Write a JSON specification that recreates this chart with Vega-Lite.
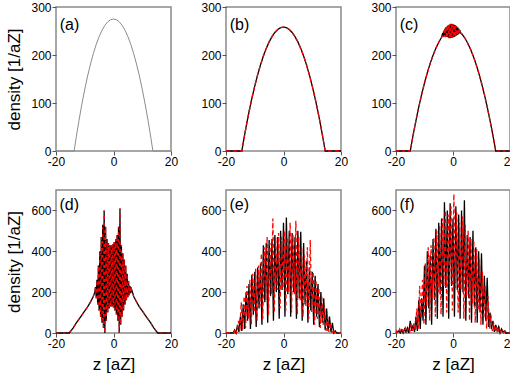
{
"$schema": "https://vega.github.io/schema/vega-lite/v6.json",
"autosize": "pad",
"padding": {"left": 5, "top": 0, "right": 0, "bottom": 0},
"background": "white",
"datasets": {
"a": [{"z":-20,"n":0},{"z":-13.7,"n":0},{"z":-13,"n":27.4},{"z":-12,"n":64},{"z":-11,"n":97.7},{"z":-10,"n":128.5},{"z":-9,"n":156.3},{"z":-8,"n":181.2},{"z":-7,"n":203.2},{"z":-6,"n":222.3},{"z":-5,"n":238.4},{"z":-4,"n":251.6},{"z":-3,"n":261.8},{"z":-2,"n":269.1},{"z":-1,"n":273.5},{"z":0,"n":275},{"z":1,"n":273.5},{"z":2,"n":269.1},{"z":3,"n":261.8},{"z":4,"n":251.6},{"z":5,"n":238.4},{"z":6,"n":222.3},{"z":7,"n":203.2},{"z":8,"n":181.2},{"z":9,"n":156.3},{"z":10,"n":128.5},{"z":11,"n":97.7},{"z":12,"n":64},{"z":13,"n":27.4},{"z":13.7,"n":0},{"z":20,"n":0}],
"b": [{"z":-20,"n":0},{"z":-14.5,"n":0},{"z":-14,"n":17.5},{"z":-13,"n":50.6},{"z":-12,"n":81.3},{"z":-11,"n":109.5},{"z":-10,"n":135.3},{"z":-9,"n":158.6},{"z":-8,"n":179.5},{"z":-7,"n":197.9},{"z":-6,"n":213.8},{"z":-5,"n":227.3},{"z":-4,"n":238.4},{"z":-3,"n":247.0},{"z":-2,"n":253.1},{"z":-1,"n":256.8},{"z":0,"n":258},{"z":1,"n":256.8},{"z":2,"n":253.1},{"z":3,"n":247.0},{"z":4,"n":238.4},{"z":5,"n":227.3},{"z":6,"n":213.8},{"z":7,"n":197.9},{"z":8,"n":179.5},{"z":9,"n":158.6},{"z":10,"n":135.3},{"z":11,"n":109.5},{"z":12,"n":81.3},{"z":13,"n":50.6},{"z":14,"n":17.5},{"z":14.5,"n":0},{"z":20,"n":0}],
"c_k": [{"z":-20,"n":0},{"z":-15,"n":0},{"z":-14,"n":33.0},{"z":-13,"n":63.5},{"z":-12,"n":91.8},{"z":-11,"n":117.9},{"z":-10,"n":141.7},{"z":-9,"n":163.2},{"z":-8,"n":182.5},{"z":-7,"n":199.5},{"z":-6,"n":214.2},{"z":-5,"n":226.7},{"z":-4,"n":236.9},{"z":-3.6,"n":246},{"z":-3.4,"n":238},{"z":-3.2,"n":251},{"z":-3.0,"n":240},{"z":-2.8,"n":255},{"z":-2.6,"n":239},{"z":-2.4,"n":258},{"z":-2.2,"n":238},{"z":-2.0,"n":260},{"z":-1.8,"n":237},{"z":-1.6,"n":262},{"z":-1.4,"n":236},{"z":-1.2,"n":263},{"z":-1.0,"n":235},{"z":-0.8,"n":264},{"z":-0.6,"n":236},{"z":-0.4,"n":265},{"z":-0.2,"n":236},{"z":0,"n":264},{"z":0.2,"n":237},{"z":0.4,"n":263},{"z":0.6,"n":238},{"z":0.8,"n":262},{"z":1.0,"n":240},{"z":1.2,"n":260},{"z":1.4,"n":241},{"z":1.6,"n":258},{"z":1.8,"n":243},{"z":2.0,"n":255},{"z":2.2,"n":245},{"z":2.4,"n":252},{"z":2.6,"n":246},{"z":3,"n":244.8},{"z":4,"n":236.9},{"z":5,"n":226.7},{"z":6,"n":214.2},{"z":7,"n":199.5},{"z":8,"n":182.5},{"z":9,"n":163.2},{"z":10,"n":141.7},{"z":11,"n":117.9},{"z":12,"n":91.8},{"z":13,"n":63.5},{"z":14,"n":33.0},{"z":15,"n":0},{"z":20,"n":0}],
"c_r": [{"z":-20,"n":0},{"z":-15,"n":0},{"z":-14,"n":33.0},{"z":-13,"n":63.5},{"z":-12,"n":91.8},{"z":-11,"n":117.9},{"z":-10,"n":141.7},{"z":-9,"n":163.2},{"z":-8,"n":182.5},{"z":-7,"n":199.5},{"z":-6,"n":214.2},{"z":-5,"n":226.7},{"z":-4,"n":236.9},{"z":-3.5,"n":240},{"z":-3.3,"n":250},{"z":-3.1,"n":238},{"z":-2.9,"n":256},{"z":-2.7,"n":237},{"z":-2.5,"n":259},{"z":-2.3,"n":236},{"z":-2.1,"n":261},{"z":-1.9,"n":236},{"z":-1.7,"n":263},{"z":-1.5,"n":235},{"z":-1.3,"n":264},{"z":-1.1,"n":235},{"z":-0.9,"n":265},{"z":-0.7,"n":236},{"z":-0.5,"n":265},{"z":-0.3,"n":236},{"z":-0.1,"n":264},{"z":0.1,"n":237},{"z":0.3,"n":263},{"z":0.5,"n":238},{"z":0.7,"n":262},{"z":0.9,"n":239},{"z":1.1,"n":261},{"z":1.3,"n":241},{"z":1.5,"n":259},{"z":1.7,"n":242},{"z":1.9,"n":256},{"z":2.1,"n":244},{"z":2.3,"n":253},{"z":2.5,"n":246},{"z":3,"n":244.8},{"z":4,"n":236.9},{"z":5,"n":226.7},{"z":6,"n":214.2},{"z":7,"n":199.5},{"z":8,"n":182.5},{"z":9,"n":163.2},{"z":10,"n":141.7},{"z":11,"n":117.9},{"z":12,"n":91.8},{"z":13,"n":63.5},{"z":14,"n":33.0},{"z":15,"n":0},{"z":20,"n":0}],
"d": [{"z":-20,"n":0},{"z":-15.4,"n":0},{"z":-14,"n":25},{"z":-13,"n":48},{"z":-12,"n":68},{"z":-11,"n":88},{"z":-10,"n":108},{"z":-9,"n":128},{"z":-8,"n":152},{"z":-7,"n":180},{"z":-6.5,"n":200},{"z":-6.25,"n":225},{"z":-6,"n":170},{"z":-5.75,"n":260},{"z":-5.5,"n":140},{"z":-5.25,"n":330},{"z":-5,"n":110},{"z":-4.75,"n":400},{"z":-4.5,"n":80},{"z":-4.25,"n":470},{"z":-4,"n":50},{"z":-3.75,"n":530},{"z":-3.5,"n":25},{"z":-3.25,"n":600},{"z":-3,"n":0},{"z":-2.75,"n":520},{"z":-2.5,"n":60},{"z":-2.25,"n":460},{"z":-2,"n":100},{"z":-1.75,"n":440},{"z":-1.5,"n":120},{"z":-1.25,"n":430},{"z":-1,"n":130},{"z":-0.75,"n":430},{"z":-0.5,"n":130},{"z":-0.25,"n":435},{"z":0,"n":125},{"z":0.25,"n":445},{"z":0.5,"n":110},{"z":0.75,"n":460},{"z":1,"n":90},{"z":1.25,"n":480},{"z":1.5,"n":60},{"z":1.75,"n":520},{"z":2,"n":0},{"z":2.25,"n":610},{"z":2.5,"n":40},{"z":2.75,"n":430},{"z":3,"n":80},{"z":3.25,"n":390},{"z":3.5,"n":110},{"z":3.75,"n":360},{"z":4,"n":140},{"z":4.25,"n":330},{"z":4.5,"n":160},{"z":4.75,"n":290},{"z":5,"n":175},{"z":5.25,"n":255},{"z":5.5,"n":185},{"z":5.75,"n":230},{"z":6,"n":195},{"z":6.25,"n":215},{"z":6.5,"n":205},{"z":7,"n":180},{"z":8,"n":152},{"z":9,"n":128},{"z":10,"n":108},{"z":11,"n":88},{"z":12,"n":68},{"z":13,"n":48},{"z":14,"n":25},{"z":15.4,"n":0},{"z":20,"n":0}],
"e_k": [{"z":-20,"n":0},{"z":-17.5,"n":0},{"z":-17,"n":15},{"z":-16.5,"n":0},{"z":-16,"n":40},{"z":-15.5,"n":5},{"z":-15,"n":80},{"z":-14.5,"n":10},{"z":-14,"n":140},{"z":-13.5,"n":20},{"z":-13,"n":200},{"z":-12.5,"n":60},{"z":-12,"n":240},{"z":-11.5,"n":20},{"z":-11,"n":285},{"z":-10.5,"n":90},{"z":-10,"n":300},{"z":-9.5,"n":30},{"z":-9,"n":320},{"z":-8.5,"n":120},{"z":-8,"n":340},{"z":-7.5,"n":40},{"z":-7,"n":430},{"z":-6.5,"n":150},{"z":-6,"n":440},{"z":-5.5,"n":50},{"z":-5,"n":455},{"z":-4.5,"n":180},{"z":-4,"n":460},{"z":-3.5,"n":60},{"z":-3,"n":480},{"z":-2.5,"n":200},{"z":-2,"n":470},{"z":-1.5,"n":70},{"z":-1,"n":500},{"z":-0.5,"n":210},{"z":0,"n":540},{"z":0.5,"n":80},{"z":1,"n":565},{"z":1.5,"n":190},{"z":2,"n":500},{"z":2.5,"n":80},{"z":3,"n":490},{"z":3.5,"n":200},{"z":4,"n":470},{"z":4.5,"n":70},{"z":5,"n":500},{"z":5.5,"n":170},{"z":6,"n":495},{"z":6.5,"n":60},{"z":7,"n":440},{"z":7.5,"n":140},{"z":8,"n":350},{"z":8.5,"n":50},{"z":9,"n":320},{"z":9.5,"n":110},{"z":10,"n":300},{"z":10.5,"n":40},{"z":11,"n":280},{"z":11.5,"n":80},{"z":12,"n":240},{"z":12.5,"n":30},{"z":13,"n":200},{"z":13.5,"n":50},{"z":14,"n":170},{"z":14.5,"n":15},{"z":15,"n":120},{"z":15.5,"n":10},{"z":16,"n":80},{"z":16.5,"n":5},{"z":17,"n":50},{"z":17.5,"n":0},{"z":18,"n":10},{"z":18.5,"n":0},{"z":20,"n":0}],
"e_r": [{"z":-20,"n":0},{"z":-17.2,"n":0},{"z":-16.7,"n":20},{"z":-16.2,"n":0},{"z":-15.7,"n":60},{"z":-15.2,"n":5},{"z":-14.7,"n":150},{"z":-14.2,"n":15},{"z":-13.7,"n":180},{"z":-13.2,"n":25},{"z":-12.7,"n":230},{"z":-12.2,"n":70},{"z":-11.7,"n":260},{"z":-11.2,"n":40},{"z":-10.7,"n":290},{"z":-10.2,"n":100},{"z":-9.7,"n":315},{"z":-9.2,"n":60},{"z":-8.7,"n":330},{"z":-8.2,"n":130},{"z":-7.7,"n":390},{"z":-7.2,"n":70},{"z":-6.7,"n":420},{"z":-6.2,"n":160},{"z":-5.7,"n":470},{"z":-5.2,"n":90},{"z":-4.7,"n":440},{"z":-4.2,"n":190},{"z":-3.7,"n":560},{"z":-3.2,"n":100},{"z":-2.7,"n":470},{"z":-2.2,"n":210},{"z":-1.7,"n":490},{"z":-1.2,"n":120},{"z":-0.7,"n":470},{"z":-0.2,"n":220},{"z":0.3,"n":500},{"z":0.8,"n":110},{"z":1.3,"n":470},{"z":1.8,"n":200},{"z":2.3,"n":540},{"z":2.8,"n":100},{"z":3.3,"n":480},{"z":3.8,"n":190},{"z":4.3,"n":550},{"z":4.8,"n":90},{"z":5.3,"n":470},{"z":5.8,"n":160},{"z":6.3,"n":420},{"z":6.8,"n":80},{"z":7.3,"n":380},{"z":7.8,"n":130},{"z":8.3,"n":420},{"z":8.8,"n":70},{"z":9.3,"n":455},{"z":9.8,"n":100},{"z":10.3,"n":300},{"z":10.8,"n":40},{"z":11.3,"n":260},{"z":11.8,"n":70},{"z":12.3,"n":220},{"z":12.8,"n":25},{"z":13.3,"n":180},{"z":13.8,"n":40},{"z":14.3,"n":130},{"z":14.8,"n":10},{"z":15.3,"n":80},{"z":15.8,"n":5},{"z":16.3,"n":50},{"z":16.8,"n":0},{"z":17.3,"n":20},{"z":17.8,"n":0},{"z":20,"n":0}],
"f_k": [{"z":-20,"n":0},{"z":-19,"n":10},{"z":-18.5,"n":0},{"z":-18,"n":15},{"z":-17.5,"n":0},{"z":-17,"n":20},{"z":-16.5,"n":5},{"z":-16,"n":25},{"z":-15.5,"n":0},{"z":-15,"n":60},{"z":-14.5,"n":10},{"z":-14,"n":40},{"z":-13.5,"n":5},{"z":-13,"n":80},{"z":-12.5,"n":10},{"z":-12,"n":160},{"z":-11.5,"n":20},{"z":-11,"n":170},{"z":-10.5,"n":60},{"z":-10,"n":330},{"z":-9.5,"n":40},{"z":-9,"n":400},{"z":-8.5,"n":120},{"z":-8,"n":380},{"z":-7.5,"n":40},{"z":-7,"n":460},{"z":-6.5,"n":160},{"z":-6,"n":510},{"z":-5.5,"n":70},{"z":-5,"n":540},{"z":-4.5,"n":190},{"z":-4,"n":560},{"z":-3.5,"n":80},{"z":-3,"n":640},{"z":-2.5,"n":220},{"z":-2,"n":600},{"z":-1.5,"n":70},{"z":-1,"n":635},{"z":-0.5,"n":230},{"z":0,"n":560},{"z":0.5,"n":80},{"z":1,"n":620},{"z":1.5,"n":210},{"z":2,"n":580},{"z":2.5,"n":70},{"z":3,"n":600},{"z":3.5,"n":200},{"z":4,"n":650},{"z":4.5,"n":60},{"z":5,"n":480},{"z":5.5,"n":170},{"z":6,"n":470},{"z":6.5,"n":50},{"z":7,"n":500},{"z":7.5,"n":130},{"z":8,"n":420},{"z":8.5,"n":50},{"z":9,"n":400},{"z":9.5,"n":100},{"z":10,"n":390},{"z":10.5,"n":40},{"z":11,"n":280},{"z":11.5,"n":60},{"z":12,"n":270},{"z":12.5,"n":30},{"z":13,"n":100},{"z":13.5,"n":20},{"z":14,"n":60},{"z":14.5,"n":5},{"z":15,"n":40},{"z":15.5,"n":10},{"z":16,"n":30},{"z":16.5,"n":0},{"z":17,"n":20},{"z":17.5,"n":5},{"z":18,"n":10},{"z":18.5,"n":0},{"z":20,"n":0}],
"f_r": [{"z":-20,"n":0},{"z":-19.7,"n":10},{"z":-19.2,"n":0},{"z":-18.7,"n":20},{"z":-18.2,"n":5},{"z":-17.7,"n":15},{"z":-17.2,"n":0},{"z":-16.7,"n":25},{"z":-16.2,"n":5},{"z":-15.7,"n":20},{"z":-15.2,"n":0},{"z":-14.7,"n":45},{"z":-14.2,"n":10},{"z":-13.7,"n":50},{"z":-13.2,"n":10},{"z":-12.7,"n":120},{"z":-12.2,"n":20},{"z":-11.7,"n":230},{"z":-11.2,"n":70},{"z":-10.7,"n":260},{"z":-10.2,"n":40},{"z":-9.7,"n":340},{"z":-9.2,"n":130},{"z":-8.7,"n":420},{"z":-8.2,"n":60},{"z":-7.7,"n":430},{"z":-7.2,"n":170},{"z":-6.7,"n":470},{"z":-6.2,"n":80},{"z":-5.7,"n":500},{"z":-5.2,"n":200},{"z":-4.7,"n":530},{"z":-4.2,"n":90},{"z":-3.7,"n":560},{"z":-3.2,"n":230},{"z":-2.7,"n":600},{"z":-2.2,"n":100},{"z":-1.7,"n":580},{"z":-1.2,"n":240},{"z":-0.7,"n":620},{"z":-0.2,"n":110},{"z":0.3,"n":680},{"z":0.8,"n":220},{"z":1.3,"n":590},{"z":1.8,"n":100},{"z":2.3,"n":540},{"z":2.8,"n":210},{"z":3.3,"n":570},{"z":3.8,"n":70},{"z":4.3,"n":530},{"z":4.8,"n":180},{"z":5.3,"n":500},{"z":5.8,"n":60},{"z":6.3,"n":460},{"z":6.8,"n":140},{"z":7.3,"n":450},{"z":7.8,"n":50},{"z":8.3,"n":410},{"z":8.8,"n":110},{"z":9.3,"n":360},{"z":9.8,"n":40},{"z":10.3,"n":300},{"z":10.8,"n":70},{"z":11.3,"n":230},{"z":11.8,"n":20},{"z":12.3,"n":180},{"z":12.8,"n":20},{"z":13.3,"n":90},{"z":13.8,"n":10},{"z":14.3,"n":50},{"z":14.8,"n":5},{"z":15.3,"n":35},{"z":15.8,"n":0},{"z":16.3,"n":25},{"z":16.8,"n":5},{"z":17.3,"n":15},{"z":17.8,"n":0},{"z":18.3,"n":10},{"z":18.8,"n":0},{"z":20,"n":0}]
},
"columns": 3,
"spacing": {"row": 39, "column": 55},
"bounds": "flush",
"concat": [
  {"width": 115, "height": 144, "layer": [
   {"data": {"name": "a"}, "mark": {"type": "line", "color": "#8c8c8c", "strokeWidth": 1},
    "encoding": {"x": {"field": "z", "type": "quantitative", "scale": {"domain": [-20, 20], "nice": false, "zero": false}, "axis": {"title": null, "values": [-20,-15,-10,-5,0,5,10,15,20], "labelExpr": "datum.value % 10 === 0 ? '' + datum.value : ''", "tickSize": {"condition": {"test": "datum.value % 10 === 0", "value": 4}, "value": 2}}},
     "y": {"field": "n", "type": "quantitative", "scale": {"domain": [0, 300], "nice": false}, "axis": {"title": "density [1/aZ]", "values": [0,50,100,150,200,250,300], "labelExpr": "datum.value % 100 === 0 ? '' + datum.value : ''", "tickSize": {"condition": {"test": "datum.value % 100 === 0", "value": 4}, "value": 2}}}}},
   {"data": {"values": [{"z": -18.7, "n": 280, "t": "(a)"}]}, "mark": {"type": "text", "align": "left", "baseline": "top", "fontSize": 16, "font": "Liberation Sans"},
    "encoding": {"x": {"field": "z", "type": "quantitative"}, "y": {"field": "n", "type": "quantitative"}, "text": {"field": "t"}}}
  ]},
  {"width": 115, "height": 144, "layer": [
   {"data": {"name": "b"}, "mark": {"type": "line", "color": "black", "strokeWidth": 1.3},
    "encoding": {"x": {"field": "z", "type": "quantitative", "scale": {"domain": [-20, 20], "nice": false, "zero": false}, "axis": {"title": null, "values": [-20,-15,-10,-5,0,5,10,15,20], "labelExpr": "datum.value % 10 === 0 ? '' + datum.value : ''", "tickSize": {"condition": {"test": "datum.value % 10 === 0", "value": 4}, "value": 2}}},
     "y": {"field": "n", "type": "quantitative", "scale": {"domain": [0, 300], "nice": false}, "axis": {"title": null, "values": [0,50,100,150,200,250,300], "labelExpr": "datum.value % 100 === 0 ? '' + datum.value : ''", "tickSize": {"condition": {"test": "datum.value % 100 === 0", "value": 4}, "value": 2}}}}},
   {"data": {"name": "b"}, "mark": {"type": "line", "color": "#ff0000", "strokeWidth": 1.3, "strokeDash": [4, 3]},
    "encoding": {"x": {"field": "z", "type": "quantitative"}, "y": {"field": "n", "type": "quantitative"}}},
   {"data": {"values": [{"z": -18.7, "n": 280, "t": "(b)"}]}, "mark": {"type": "text", "align": "left", "baseline": "top", "fontSize": 16, "font": "Liberation Sans"},
    "encoding": {"x": {"field": "z", "type": "quantitative"}, "y": {"field": "n", "type": "quantitative"}, "text": {"field": "t"}}}
  ]},
  {"width": 114, "height": 144, "layer": [
   {"data": {"name": "c_k"}, "mark": {"type": "line", "color": "black", "strokeWidth": 1.3},
    "encoding": {"x": {"field": "z", "type": "quantitative", "scale": {"domain": [-20, 20], "nice": false, "zero": false}, "axis": {"title": null, "values": [-20,-15,-10,-5,0,5,10,15,20], "labelExpr": "datum.value % 10 === 0 ? '' + datum.value : ''", "tickSize": {"condition": {"test": "datum.value % 10 === 0", "value": 4}, "value": 2}}},
     "y": {"field": "n", "type": "quantitative", "scale": {"domain": [0, 300], "nice": false}, "axis": {"title": null, "values": [0,50,100,150,200,250,300], "labelExpr": "datum.value % 100 === 0 ? '' + datum.value : ''", "tickSize": {"condition": {"test": "datum.value % 100 === 0", "value": 4}, "value": 2}}}}},
   {"data": {"name": "c_r"}, "mark": {"type": "line", "color": "#ff0000", "strokeWidth": 1.3, "strokeDash": [3, 3]},
    "encoding": {"x": {"field": "z", "type": "quantitative"}, "y": {"field": "n", "type": "quantitative"}}},
   {"data": {"values": [{"z": -18.7, "n": 280, "t": "(c)"}]}, "mark": {"type": "text", "align": "left", "baseline": "top", "fontSize": 16, "font": "Liberation Sans"},
    "encoding": {"x": {"field": "z", "type": "quantitative"}, "y": {"field": "n", "type": "quantitative"}, "text": {"field": "t"}}}
  ]},
  {"width": 115, "height": 143, "layer": [
   {"data": {"name": "d"}, "mark": {"type": "line", "color": "black", "strokeWidth": 1.3},
    "encoding": {"x": {"field": "z", "type": "quantitative", "scale": {"domain": [-20, 20], "nice": false, "zero": false}, "axis": {"title": "z [aZ]", "values": [-20,-15,-10,-5,0,5,10,15,20], "labelExpr": "datum.value % 10 === 0 ? '' + datum.value : ''", "tickSize": {"condition": {"test": "datum.value % 10 === 0", "value": 4}, "value": 2}}},
     "y": {"field": "n", "type": "quantitative", "scale": {"domain": [0, 700], "nice": false}, "axis": {"title": "density [1/aZ]", "values": [0,100,200,300,400,500,600,700], "labelExpr": "datum.value % 200 === 0 && datum.value < 700 ? '' + datum.value : ''", "tickSize": {"condition": {"test": "datum.value % 200 === 0", "value": 4}, "value": 2}}}}},
   {"data": {"name": "d"}, "mark": {"type": "line", "color": "#ff0000", "strokeWidth": 1.2, "strokeDash": [3, 4]},
    "encoding": {"x": {"field": "z", "type": "quantitative"}, "y": {"field": "n", "type": "quantitative"}}},
   {"data": {"values": [{"z": -18.8, "n": 665, "t": "(d)"}]}, "mark": {"type": "text", "align": "left", "baseline": "top", "fontSize": 16, "font": "Liberation Sans"},
    "encoding": {"x": {"field": "z", "type": "quantitative"}, "y": {"field": "n", "type": "quantitative"}, "text": {"field": "t"}}}
  ]},
  {"width": 115, "height": 143, "layer": [
   {"data": {"name": "e_k"}, "mark": {"type": "line", "color": "black", "strokeWidth": 1.3},
    "encoding": {"x": {"field": "z", "type": "quantitative", "scale": {"domain": [-20, 20], "nice": false, "zero": false}, "axis": {"title": "z [aZ]", "values": [-20,-15,-10,-5,0,5,10,15,20], "labelExpr": "datum.value % 10 === 0 ? '' + datum.value : ''", "tickSize": {"condition": {"test": "datum.value % 10 === 0", "value": 4}, "value": 2}}},
     "y": {"field": "n", "type": "quantitative", "scale": {"domain": [0, 700], "nice": false}, "axis": {"title": null, "values": [0,100,200,300,400,500,600,700], "labelExpr": "datum.value % 200 === 0 && datum.value < 700 ? '' + datum.value : ''", "tickSize": {"condition": {"test": "datum.value % 200 === 0", "value": 4}, "value": 2}}}}},
   {"data": {"name": "e_r"}, "mark": {"type": "line", "color": "#ff0000", "strokeWidth": 1.3, "strokeDash": [4, 3]},
    "encoding": {"x": {"field": "z", "type": "quantitative"}, "y": {"field": "n", "type": "quantitative"}}},
   {"data": {"values": [{"z": -18.8, "n": 665, "t": "(e)"}]}, "mark": {"type": "text", "align": "left", "baseline": "top", "fontSize": 16, "font": "Liberation Sans"},
    "encoding": {"x": {"field": "z", "type": "quantitative"}, "y": {"field": "n", "type": "quantitative"}, "text": {"field": "t"}}}
  ]},
  {"width": 114, "height": 143, "layer": [
   {"data": {"name": "f_k"}, "mark": {"type": "line", "color": "black", "strokeWidth": 1.3},
    "encoding": {"x": {"field": "z", "type": "quantitative", "scale": {"domain": [-20, 20], "nice": false, "zero": false}, "axis": {"title": "z [aZ]", "values": [-20,-15,-10,-5,0,5,10,15,20], "labelExpr": "datum.value % 10 === 0 ? '' + datum.value : ''", "tickSize": {"condition": {"test": "datum.value % 10 === 0", "value": 4}, "value": 2}}},
     "y": {"field": "n", "type": "quantitative", "scale": {"domain": [0, 700], "nice": false}, "axis": {"title": null, "values": [0,100,200,300,400,500,600,700], "labelExpr": "datum.value % 200 === 0 && datum.value < 700 ? '' + datum.value : ''", "tickSize": {"condition": {"test": "datum.value % 200 === 0", "value": 4}, "value": 2}}}}},
   {"data": {"name": "f_r"}, "mark": {"type": "line", "color": "#ff0000", "strokeWidth": 1.3, "strokeDash": [4, 3]},
    "encoding": {"x": {"field": "z", "type": "quantitative"}, "y": {"field": "n", "type": "quantitative"}}},
   {"data": {"values": [{"z": -18.8, "n": 665, "t": "(f)"}]}, "mark": {"type": "text", "align": "left", "baseline": "top", "fontSize": 16, "font": "Liberation Sans"},
    "encoding": {"x": {"field": "z", "type": "quantitative"}, "y": {"field": "n", "type": "quantitative"}, "text": {"field": "t"}}}
  ]}
],
"config": {
 "view": {"stroke": "#8a8a8a", "strokeWidth": 1.5},
 "axis": {"domain": false, "grid": false, "tickColor": "#555555", "tickWidth": 1, "labelFont": "Liberation Sans", "labelFontSize": 12, "labelColor": "black", "labelPadding": 1, "labelFlush": false, "labelOverlap": false, "labelBound": false, "titleFont": "Liberation Sans", "titleFontSize": 17, "titleFontWeight": "normal", "titleColor": "black"},
 "axisX": {"titlePadding": 7},
 "axisY": {"titlePadding": 7}
}
}
